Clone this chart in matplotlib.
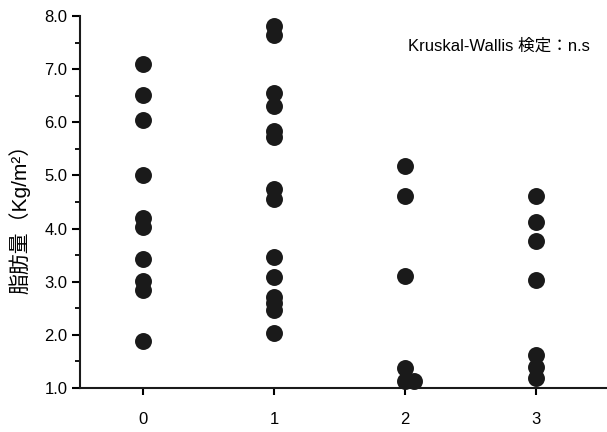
import matplotlib.pyplot as plt
from matplotlib.ticker import MultipleLocator

plt.rcParams['font.family'] = ['Liberation Sans', 'Noto Sans CJK JP', 'DejaVu Sans']

# fat mass per group
groups = [0, 1, 2, 3]
fat_0 = [7.10, 6.52, 6.05, 5.00, 4.20, 4.03, 3.42, 3.02, 2.85, 1.88]
fat_1 = [7.81, 7.65, 6.56, 6.31, 5.84, 5.72, 4.74, 4.56, 3.47, 3.08,
         2.72, 2.60, 2.47, 2.03]
fat_2 = [5.17, 4.62, 3.11, 1.37, 1.13, 1.13]
fat_3 = [4.61, 4.13, 3.77, 3.03, 1.62, 1.40, 1.18]
# small horizontal shift for overlapping points in group 2
shift_2 = [0, 0, 0, 0, 0, 0.07]

ytick_labels = ['1.0', '2.0', '3.0', '4.0', '5.0', '6.0', '7.0', '8.0']

fig = plt.figure(figsize=(6.07, 4.32), dpi=100)
ax = fig.add_axes([0.1318, 0.1019, 0.8682, 0.8611])

all_fat = [fat_0, fat_1, fat_2, fat_3]
for g, vals in zip(groups, all_fat):
    xs = [g] * len(vals)
    if g == 2:
        xs = [g + s for s in shift_2]
    ax.plot(xs, vals, 'o', color='#1a1a1a', markersize=12.2,
            markeredgewidth=0, clip_on=False, zorder=3)

ax.set_xlim(-0.48, 3.54)
ax.set_ylim(1.0, 8.0)
ax.set_xticks(groups)
ax.set_xticklabels([str(g) for g in groups])
ax.set_yticks(range(1, 9))
ax.set_yticklabels(ytick_labels)
ax.yaxis.set_minor_locator(MultipleLocator(0.5))

for side in ['top', 'right']:
    ax.spines[side].set_visible(False)
for side in ['left', 'bottom']:
    ax.spines[side].set_linewidth(1.5)
    ax.spines[side].set_color('#1a1a1a')

ax.tick_params(axis='y', which='major', length=6, width=1.5, labelsize=12, pad=3)
ax.tick_params(axis='y', which='minor', length=3.5, width=1.3)
ax.tick_params(axis='x', which='major', length=5, width=1.5, labelsize=12, pad=12)

ax.set_ylabel('脂肪量（Kg/m²）', fontsize=15)
ax.yaxis.set_label_coords(-0.095, 0.468)

ax.text(0.968, 0.919, 'Kruskal-Wallis 検定：n.s', transform=ax.transAxes,
        ha='right', va='center', fontsize=12)

fig.savefig('out.png', dpi=100)
